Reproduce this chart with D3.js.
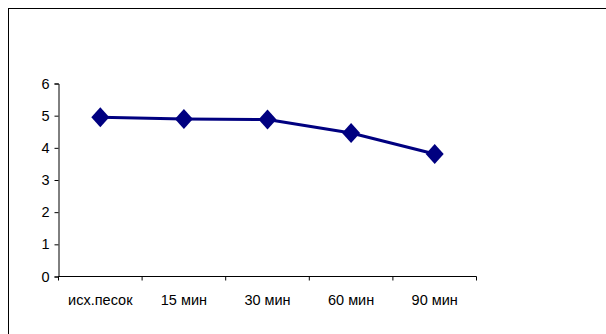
<!DOCTYPE html>
<html><head><meta charset="utf-8">
<script src="https://cdn.jsdelivr.net/npm/d3@7"></script>
<style>body{margin:0;background:#fff}svg{display:block}</style>
</head><body>
<script>
const categories = ["исх.песок", "15 мин", "30 мин", "60 мин", "90 мин"];
const values = [4.95, 4.90, 4.88, 4.46, 3.81];
const yTicks = [0, 1, 2, 3, 4, 5, 6];

(function () {
const W = 606, H = 334;
const svg = d3.select("body").append("svg").attr("width", W).attr("height", H);

// outer frame (extends past the right/bottom edges)
svg.append("rect").attr("x", 8.5).attr("y", 8.5).attr("width", 700).attr("height", 400)
  .attr("fill", "none").attr("stroke", "#000").attr("stroke-width", 1);

const mLeft = 58.5, mRight = 476.5, mTop = 83.5, mBottom = 276.5;
const x = d3.scaleBand().domain(categories).range([mLeft, mRight]);
const y = d3.scaleLinear().domain([0, 6]).range([mBottom, mTop]);

const font = "Arial, 'Liberation Sans', sans-serif";
const fs = 14.5;

// y axis
const ya = svg.append("g").attr("transform", `translate(${mLeft},0)`)
  .call(d3.axisLeft(y).tickValues(yTicks).tickSize(4).tickPadding(5).tickFormat(d3.format("d")));
ya.select(".domain").attr("stroke", "#000");
ya.selectAll(".tick line").attr("stroke", "#000");
ya.selectAll("text").attr("font-family", font).attr("font-size", fs).attr("fill", "#000");

// x axis: line and ticks at category boundaries
const xa = svg.append("g").attr("transform", `translate(0,${mBottom})`);
xa.append("line").attr("x1", mLeft).attr("x2", mRight).attr("stroke", "#000");
const bounds = categories.map(c => x(c)).concat([x(categories[categories.length-1]) + x.bandwidth()]);
xa.selectAll("line.t").data(bounds).enter().append("line").attr("class", "t")
  .attr("x1", d => d).attr("x2", d => d).attr("y1", 0).attr("y2", 4).attr("stroke", "#000");
xa.selectAll("text").data(categories).enter().append("text")
  .attr("x", d => x(d) + x.bandwidth() / 2).attr("y", 28.5)
  .attr("text-anchor", "middle").attr("font-family", font).attr("font-size", fs).attr("fill", "#000")
  .text(d => d);

const cx = (d, i) => x(categories[i]) + x.bandwidth() / 2;
const line = d3.line().x((d, i) => cx(d, i)).y(d => y(d));
svg.append("path").datum(values).attr("d", line)
  .attr("fill", "none").attr("stroke", "#000080").attr("stroke-width", 3);

svg.selectAll("path.m").data(values).enter().append("path").attr("class", "m")
  .attr("d", "M0,-10L9,0L0,10L-9,0Z")
  .attr("transform", (d, i) => `translate(${cx(d, i)},${y(d)})`)
  .attr("fill", "#000080");
})();
</script>
</body></html>
